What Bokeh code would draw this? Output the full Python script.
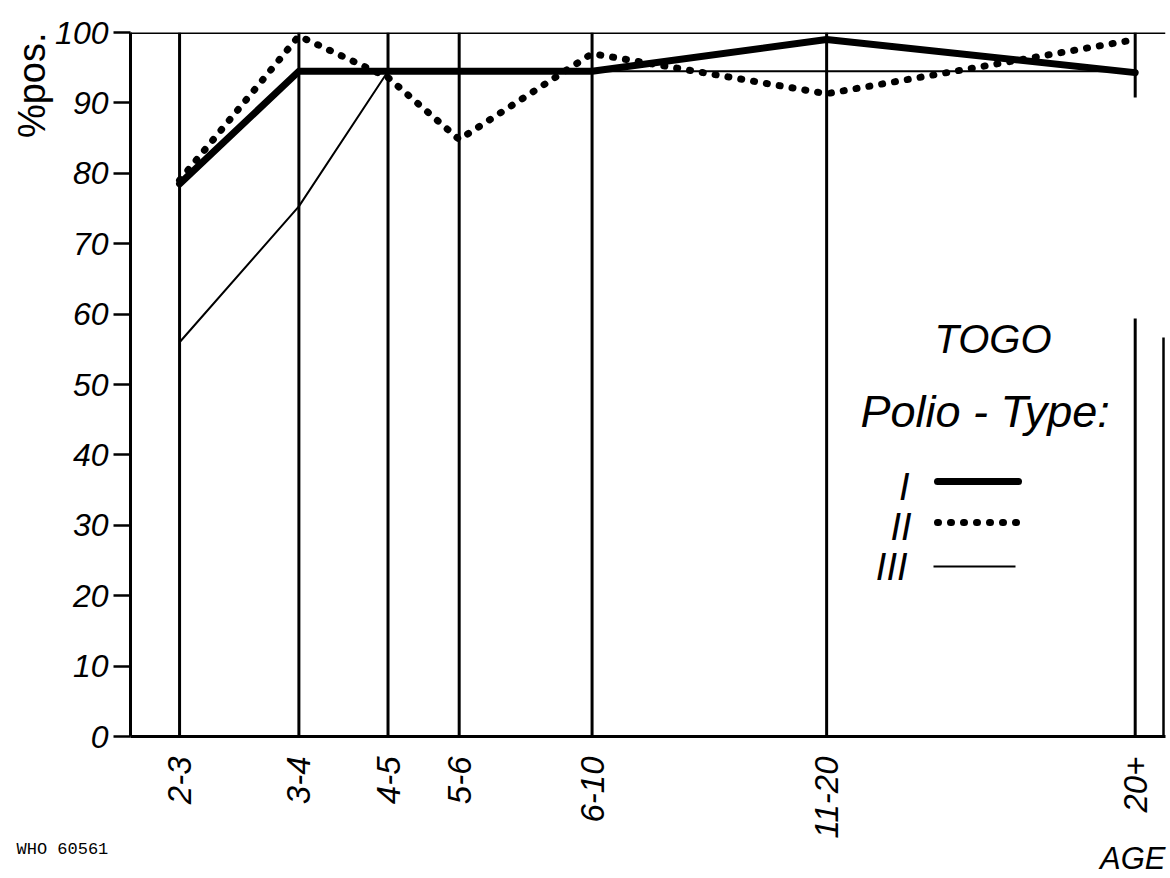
import math
from bokeh.plotting import figure
from bokeh.models import FixedTicker, Range1d, Span, Label, Title
from bokeh.embed import file_html
from bokeh.resources import INLINE

# ---------------- data ----------------
age_groups = ["2-3", "3-4", "4-5", "5-6", "6-10", "11-20", "20+"]
age_mid = [2.5, 3.5, 4.5, 5.5, 8, 15.5, 37]          # representative age of each group (log axis)
type_I = [78.5, 94.5, 94.5, 94.5, 94.5, 99.0, 94.3]
type_II = [79.0, 99.5, 93.6, 84.8, 97.0, 91.3, 99.0]
type_III = [56.0, 75.3, 94.5, 94.5, 94.5, 94.5, 94.5]
y_ticks = [0, 10, 20, 30, 40, 50, 60, 70, 80, 90, 100]

# ---------------- geometry ----------------
W, H = 1170, 878
FL, FR, FT, FB = 130, 1165, 32, 736   # frame edges in page pixels
X_LO, X_HI = 2.177, 40.3


def sx2x(px):
    a, b = math.log(X_LO), math.log(X_HI)
    return math.exp(a + (px - FL) / (FR - FL) * (b - a))


def sy2y(py):
    return (FB - py) / (FB - FT) * 100


FONT = "Liberation Sans"

p = figure(width=W, height=H, x_axis_type="log",
           x_range=Range1d(X_LO, X_HI), y_range=Range1d(0, 100),
           output_backend="svg", toolbar_location=None,
           min_border_left=FL, min_border_right=W - FR,
           min_border_top=FT, min_border_bottom=H - FB)
p.title.visible = False
p.outline_line_color = None
p.xgrid.visible = False
p.ygrid.visible = False
p.background_fill_color = "white"
p.border_fill_color = "white"

# y axis
p.yaxis.ticker = FixedTicker(ticks=y_ticks)
p.yaxis.axis_line_width = 3
p.yaxis.axis_line_color = "black"
p.yaxis.major_tick_in = 0
p.yaxis.major_tick_out = 17
p.yaxis.major_tick_line_width = 2.5
p.yaxis.minor_tick_line_color = None
p.yaxis.major_label_standoff = 5
p.yaxis.major_label_text_font = FONT
p.yaxis.major_label_text_font_style = "italic"
p.yaxis.major_label_text_font_size = "32px"
p.yaxis.major_label_text_color = "black"

# x axis
p.xaxis.ticker = FixedTicker(ticks=age_mid)
p.xaxis.major_label_overrides = {m: g for m, g in zip(age_mid, age_groups)}
p.xaxis.major_label_orientation = math.pi / 2
p.xaxis.axis_line_width = 3
p.xaxis.axis_line_color = "black"
p.xaxis.major_tick_in = 0
p.xaxis.major_tick_out = 0
p.xaxis.minor_tick_line_color = None
p.xaxis.major_label_standoff = 20
p.xaxis.major_label_text_font = FONT
p.xaxis.major_label_text_font_style = "italic"
p.xaxis.major_label_text_font_size = "33px"
p.xaxis.major_label_text_color = "black"

# texts outside the frame (as titles in the side panels)
p.add_layout(Title(text="%pos.", align="right", text_font=FONT, text_font_style="normal",
                   text_font_size="38px", text_color="black", standoff=0), "left")
p.add_layout(Title(text="WHO 60561", align="left", offset=-114, text_font="Liberation Mono",
                   text_font_style="normal", text_font_size="17px", text_color="black",
                   standoff=-7), "below")
p.add_layout(Title(text="AGE", align="right", offset=0, text_font=FONT,
                   text_font_style="italic", text_font_size="31px", text_color="black",
                   standoff=-33), "below")

# top border
p.add_layout(Span(location=100, dimension="width", line_color="black", line_width=3))

# vertical lines at each age group
gap_lo, gap_hi = sy2y(318), sy2y(97)
p.segment(x0=age_mid[:-1], y0=[0] * 6, x1=age_mid[:-1], y1=[100] * 6,
          line_color="black", line_width=3)
p.segment(x0=[age_mid[-1]] * 2, y0=[0, gap_hi], x1=[age_mid[-1]] * 2, y1=[gap_lo, 100],
          line_color="black", line_width=3)
# partial right border
p.segment(x0=[sx2x(1163)], y0=[0], x1=[sx2x(1163)], y1=[sy2y(337)],
          line_color="black", line_width=2.5)

# series
p.line(age_mid, type_III, line_color="black", line_width=2)
p.line(age_mid, type_I, line_color="black", line_width=7, line_join="round", line_cap="round")
p.line(age_mid, type_II, line_color="black", line_width=7, line_dash="1 12", line_cap="round")

# legend (custom)
p.line([sx2x(937), sx2x(1018)], [sy2y(481)] * 2, line_color="black", line_width=7, line_cap="round")
p.line([sx2x(937), sx2x(1018)], [sy2y(522)] * 2, line_color="black", line_width=7,
       line_dash="1 12", line_cap="round")
p.line([sx2x(933), sx2x(1015)], [sy2y(566)] * 2, line_color="black", line_width=2)

BASE_SHIFT = 14   # Label 'alphabetic' baseline sits lower than the glyph baseline


def lab(text, x, y, size, align="left", angle=0.0, font=FONT, style="italic"):
    # x, y are page pixels (top-left origin); screen units are relative to the frame's bottom-left
    p.add_layout(Label(x=x - FL, y=FB - (y - BASE_SHIFT), x_units="screen", y_units="screen",
                       text=text, text_font=font, text_font_style=style, text_font_size=size,
                       text_align=align, text_baseline="alphabetic", angle=angle,
                       text_color="black"))


lab("TOGO", 934, 352, "40px")
lab("Polio - Type:", 860, 425, "45px")
lab("I", 909, 500, "38px", align="right")
lab("II", 911, 540, "38px", align="right")
lab("III", 907, 580, "38px", align="right")

open("out.html", "w").write(file_html(p, INLINE))
